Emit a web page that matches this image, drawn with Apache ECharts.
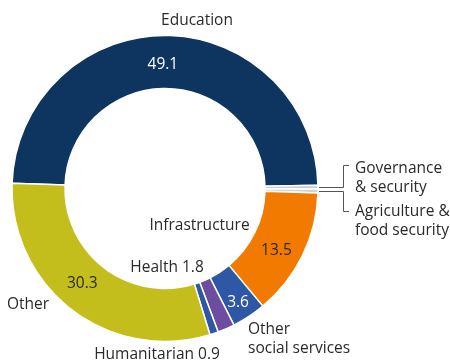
<!DOCTYPE html>
<html><head><meta charset="utf-8">
<script src="https://cdn.jsdelivr.net/npm/echarts@6/dist/echarts.min.js"></script>
<style>html,body{margin:0;padding:0;background:#fff}#c{width:450px;height:363px}</style>
</head><body><div id="c"></div>
<script>
var categories = ['Education','Governance & security','Agriculture & food security','Infrastructure','Other social services','Health','Humanitarian','Other'];
var values = [49.1, 0.4, 0.4, 13.5, 3.6, 1.8, 0.9, 30.3];
var colors = ['#0d355f','#c8cacc','#d2d4d6','#f27a00','#2e58a6','#6c4d9f','#2e58a6','#c4be1c'];
var showValue = [true,false,false,true,true,false,false,true];
var valueColors = ['#ffffff','#333','#333','#2a2a2a','#ffffff','#333','#333','#2a2a2a'];
var valueOffsets = [[-3,6],[0,0],[0,0],[-5,5],[2,6],[0,0],[0,0],[-4,-8]];

var FONT = 'Open Sans';
var TXT = '#2a2a2a';
var FS = 15.5;

var data = categories.map(function(c,i){
  return {name:c, value:values[i], itemStyle:{color:colors[i]},
    label:{show:showValue[i], color:valueColors[i], offset:valueOffsets[i]}};
});

function txt(x,y,s,align){
  return {type:'text', x:x, y:y, style:{text:s, fill:TXT, font:FS+'px "'+FONT+'"', textAlign:align||'left', textVerticalAlign:'middle', lineHeight:19}};
}
function line(pts){
  return {type:'polyline', shape:{points:pts}, style:{stroke:'#555', lineWidth:1, fill:null}};
}

var chart = echarts.init(document.getElementById('c'));
chart.setOption({
  animation:false,
  series:[{
    type:'pie',
    center:[165,188.5],
    radius:[100,153],
    startAngle:178,
    clockwise:true,
    avoidLabelOverlap:false,
    itemStyle:{borderColor:'#fff', borderWidth:1.5},
    label:{position:'inside', formatter:function(p){return p.value.toFixed(1);}, fontFamily:FONT, fontSize:FS},
    labelLine:{show:false},
    emphasis:{disabled:true},
    data:data
  }],
  graphic:[
    txt(197,21,'Education','center'),
    txt(355,178,'Governance\n& security'),
    txt(355,221,'Agriculture &\nfood security'),
    txt(199.5,226,'Infrastructure','center'),
    txt(167,268,'Health 1.8','center'),
    txt(28,305,'Other','center'),
    txt(248,339.5,'Other\nsocial services'),
    txt(157,355,'Humanitarian 0.9','center'),
    line([[319,187.5],[343.5,187.5],[343.5,165.5],[349,165.5]]),
    line([[319,191.5],[343.5,191.5],[343.5,211.5],[349,211.5]])
  ]
});
</script></body></html>
